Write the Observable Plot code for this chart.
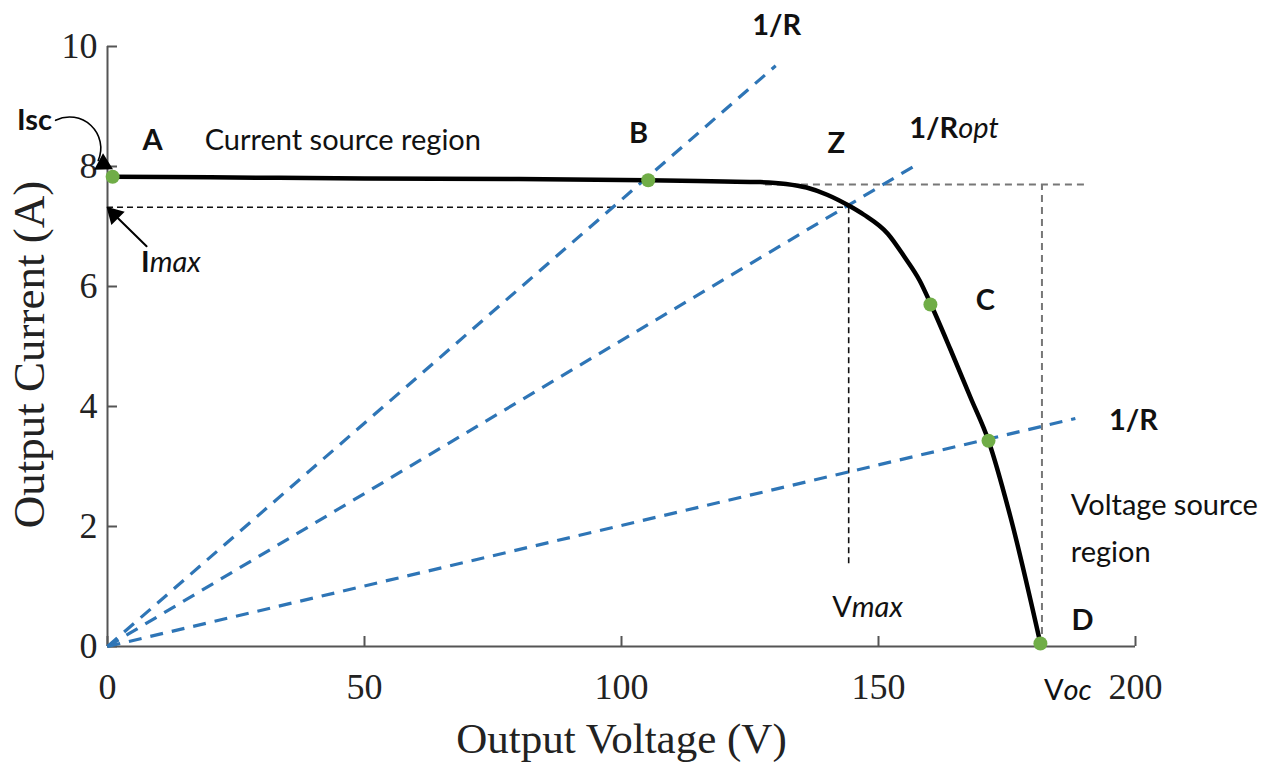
<!DOCTYPE html>
<html><head><meta charset="utf-8">
<script src="https://cdn.jsdelivr.net/npm/d3@7"></script>
<script src="https://cdn.jsdelivr.net/npm/@observablehq/plot@0.6"></script>
<style>body{margin:0;background:#fff}</style>
</head><body><div id="chart"></div>
<script>
// Axis ticks
const xTicks = [0, 50, 100, 150, 200];
const yTicks = [0, 2, 4, 6, 8, 10];

// I-V curve
const curveV = [1, 20, 50, 80, 105.2, 120, 127, 132, 136, 140, 144.2, 147.1, 151.8, 155, 158, 160.1, 164, 167.9, 171.4, 175.7, 181.5];
const curveI = [7.83, 7.82, 7.8, 7.79, 7.77, 7.75, 7.74, 7.71, 7.65, 7.53, 7.35, 7.2, 6.88, 6.5, 6.1, 5.72, 4.95, 4.15, 3.43, 2.15, 0.05];

// Marked points A, B, C(upper), C(lower), D
const pointV = [1, 105.2, 160.1, 171.4, 181.5];
const pointI = [7.83, 7.77, 5.7, 3.43, 0.05];

// Load lines 1/R through origin (end points)
const loadEndV = [130, 157.2, 188.3];
const loadEndI = [9.68, 8.02, 3.8];

// Reference values
const Vmax = 144.2, Imax = 7.32, VmaxLineEnd = 1.38;
const Voc = 181.8, IscLevel = 7.7, IscLineStart = 128, IscLineEnd = 191;

// Annotation labels
const boldLabels = [
  {t: "1/R", v: 130.2, i: 10.35},
  {t: "Isc", v: -14.2, i: 8.77},
  {t: "A", v: 8.75, i: 8.43},
  {t: "B", v: 103.3, i: 8.55},
  {t: "Z", v: 141.8, i: 8.38},
  {t: "C", v: 170.8, i: 5.77},
  {t: "1/R", v: 199.6, i: 3.77},
  {t: "D", v: 189.7, i: 0.43}
];
const plainLabels = [
  {t: "Current source region", v: 18.9, i: 8.43},
  {t: "Voltage source", v: 187.4, i: 2.35},
  {t: "region", v: 187.4, i: 1.57}
];
// split labels: head + italic tail
const splitBold = [
  {head: "1/R", tail: "opt", v: 165.5, i: 8.63},
  {head: "I", tail: "max", v: 8.2, i: 6.4}
];
const splitPlain = [
  {head: "V", tail: "max", v: 144.8, i: 0.65},
  {head: "V", tail: "oc", v: 186, i: -0.73}
];

// arrows: Isc (curved), Imax (straight); heads drawn as filled triangles
const iscArrow = [{x1: -10.1, y1: 8.77, x2: -1.8, y2: 8.1}];
const imaxArrow = [{x1: 7.6, y1: 6.67, x2: 1.3, y2: 7.2}];
const headV = [-0.8, 1.3];
const headI = [8.04, 7.2];
const headAngle = [118, -45];

const curve = curveV.map((v, k) => ({v, i: curveI[k]}));
const points = pointV.map((v, k) => ({v, i: pointI[k]}));
const loads = loadEndV.map((v, k) => ({v, i: loadEndI[k]}));
const heads = headV.map((v, k) => ({v, i: headI[k], a: headAngle[k]}));

const sans = "Lato, 'Open Sans', sans-serif";
const serif = "'Liberation Serif', 'DejaVu Serif', serif";
const blue = "#2E75B6";
const fs = 29;

const chart = Plot.plot({
  width: 1279, height: 767,
  marginLeft: 107, marginRight: 144, marginTop: 46, marginBottom: 121,
  x: {domain: [0, 200]},
  y: {domain: [0, 10]},
  style: {background: "white", overflow: "visible"},
  marks: [
    // axes lines
    Plot.ruleX([0], {stroke: "#555", strokeWidth: 2}),
    Plot.ruleY([0], {stroke: "#555", strokeWidth: 2}),
    Plot.tickX(xTicks, {x: d => d, insetTop: 590, stroke: "#555", strokeWidth: 2}),
    Plot.tickY(yTicks, {y: d => d, insetRight: 1018, stroke: "#555", strokeWidth: 2}),
    Plot.axisX(xTicks, {tickSize: 0, tickPadding: 27, tickFormat: d => String(d), fontSize: 36, fontFamily: serif, fill: "#222", label: null}),
    Plot.axisY(yTicks, {tickSize: 0, tickPadding: 10, tickFormat: d => String(d), fontSize: 36, fontFamily: serif, fill: "#222", label: null}),
    Plot.text(["Output Voltage (V)"], {frameAnchor: "bottom", dy: 106, fontSize: 43, fontFamily: serif, fill: "#222"}),
    Plot.text(["Output Current (A)"], {frameAnchor: "left", textAnchor: "middle", dx: -78, dy: 8, rotate: -90, fontSize: 45, fontFamily: serif, fill: "#222"}),

    // reference dashed lines
    Plot.ruleY([Imax], {x1: 0, x2: Vmax, stroke: "#111", strokeWidth: 1.6, strokeDasharray: "6,4"}),
    Plot.ruleX([Vmax], {y1: VmaxLineEnd, y2: Imax, stroke: "#111", strokeWidth: 1.6, strokeDasharray: "6,4"}),
    Plot.ruleY([IscLevel], {x1: IscLineStart, x2: IscLineEnd, stroke: "#777", strokeWidth: 2, strokeDasharray: "7,5"}),
    Plot.ruleX([Voc], {y1: 0, y2: IscLevel, stroke: "#777", strokeWidth: 2, strokeDasharray: "7,5"}),

    // load lines
    Plot.link(loads, {x1: 0, y1: 0, x2: "v", y2: "i", stroke: blue, strokeWidth: 3.2, strokeDasharray: "13,9"}),

    // I-V curve
    Plot.line(curve, {x: "v", y: "i", curve: "monotone-x", stroke: "#000", strokeWidth: 4.5, strokeLinejoin: "round"}),

    // points
    Plot.dot(points, {x: "v", y: "i", r: 7, fill: "#70AD47", stroke: null}),

    // arrows
    Plot.arrow(iscArrow, {x1: "x1", y1: "y1", x2: "x2", y2: "y2", bend: 70, headLength: 0, stroke: "#000", strokeWidth: 1.6}),
    Plot.arrow(imaxArrow, {x1: "x1", y1: "y1", x2: "x2", y2: "y2", headLength: 0, stroke: "#000", strokeWidth: 2}),
    Plot.dot(heads, {x: "v", y: "i", symbol: "triangle", rotate: "a", r: 7, fill: "#000", stroke: null}),

    // labels
    Plot.text(boldLabels, {x: "v", y: "i", text: "t", fontWeight: "bold", fontSize: fs, fontFamily: sans, fill: "#111"}),
    Plot.text(plainLabels, {x: "v", y: "i", text: "t", textAnchor: "start", fontSize: fs, fontFamily: sans, fill: "#111"}),
    Plot.text(splitBold, {x: "v", y: "i", text: "head", textAnchor: "end", fontWeight: "bold", fontSize: fs, fontFamily: sans, fill: "#111"}),
    Plot.text(splitPlain, {x: "v", y: "i", text: "head", textAnchor: "end", fontSize: fs, fontFamily: sans, fill: "#111"}),
    Plot.text(splitBold.concat(splitPlain), {x: "v", y: "i", text: "tail", textAnchor: "start", fontStyle: "italic", fontSize: fs, fontFamily: sans, fill: "#111"})
  ]
});
document.getElementById("chart").appendChild(chart);
</script>
</body></html>
